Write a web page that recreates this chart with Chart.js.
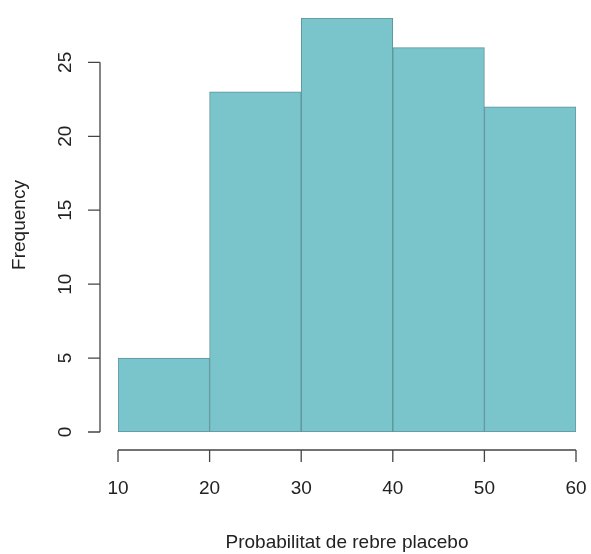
<!DOCTYPE html>
<html>
<head>
<meta charset="utf-8">
<script src="https://cdn.jsdelivr.net/npm/chart.js@4"></script>
<style>
  html, body { margin: 0; padding: 0; background: #fff; }
  #wrap { width: 591px; height: 554px; }
</style>
</head>
<body>
<div id="wrap"><canvas id="histChart" width="591" height="554"></canvas></div>
<script>
// histogram bins (break points) and counts
const binStarts = [10, 20, 30, 40, 50];
const binWidth = 10;
const counts = [5, 23, 28, 26, 22];

// axis tick labels
const xTicks = [10, 20, 30, 40, 50, 60];
const yTicks = [0, 5, 10, 15, 20, 25];

const xTitle = 'Probabilitat de rebre placebo';
const yTitle = 'Frequency';

const fontFamily = '"Liberation Sans", Arial, sans-serif';

// R-style detached axes, drawn with the chart's own scales
const rAxes = {
    id: 'rAxes',
    afterDraw(chart) {
        const ctx = chart.ctx;
        const xs = chart.scales.x;
        const ys = chart.scales.y;
        ctx.save();
        ctx.strokeStyle = '#444';
        ctx.lineWidth = 1.3;
        ctx.fillStyle = '#222';
        ctx.font = '19px ' + fontFamily;

        // x axis
        const axY = 450;
        ctx.beginPath();
        ctx.moveTo(xs.getPixelForValue(xTicks[0]), axY);
        ctx.lineTo(xs.getPixelForValue(xTicks[xTicks.length - 1]), axY);
        xTicks.forEach(t => {
            const px = xs.getPixelForValue(t);
            ctx.moveTo(px, axY);
            ctx.lineTo(px, axY + 12);
        });
        ctx.stroke();
        ctx.textAlign = 'center';
        ctx.textBaseline = 'middle';
        xTicks.forEach(t => {
            ctx.fillText(String(t), xs.getPixelForValue(t), 489);
        });

        // y axis
        const axX = 100;
        ctx.beginPath();
        ctx.moveTo(axX, ys.getPixelForValue(yTicks[0]));
        ctx.lineTo(axX, ys.getPixelForValue(yTicks[yTicks.length - 1]));
        yTicks.forEach(t => {
            const py = ys.getPixelForValue(t);
            ctx.moveTo(axX, py);
            ctx.lineTo(axX - 12, py);
        });
        ctx.stroke();
        yTicks.forEach(t => {
            ctx.save();
            ctx.translate(66, ys.getPixelForValue(t));
            ctx.rotate(-Math.PI / 2);
            ctx.fillText(String(t), 0, 0);
            ctx.restore();
        });

        // titles
        ctx.fillText(xTitle, 347, 543);
        ctx.save();
        ctx.translate(20, 225);
        ctx.rotate(-Math.PI / 2);
        ctx.fillText(yTitle, 0, 0);
        ctx.restore();
        ctx.restore();
    }
};

const ctx = document.getElementById('histChart').getContext('2d');
const histChart = new Chart(ctx, {
    type: 'bar',
    data: {
        datasets: [{
            data: binStarts.map((s, i) => ({ x: s + binWidth / 2, y: counts[i] })),
            backgroundColor: '#7AC4CC',
            borderColor: '#5F9299',
            borderWidth: 1,
            borderSkipped: false,
            barPercentage: 1,
            categoryPercentage: 1
        }]
    },
    options: {
        responsive: false,
        animation: false,
        layout: { padding: { left: 118, right: 15, top: 18, bottom: 122 } },
        plugins: { legend: { display: false }, tooltip: { enabled: false } },
        scales: {
            x: {
                type: 'linear',
                min: 10,
                max: 60,
                offset: false,
                display: false,
                ticks: { stepSize: 10 },
                grid: { offset: false }
            },
            y: {
                min: 0,
                max: 28,
                display: false
            }
        }
    },
    plugins: [rAxes]
});
</script>
</body>
</html>
